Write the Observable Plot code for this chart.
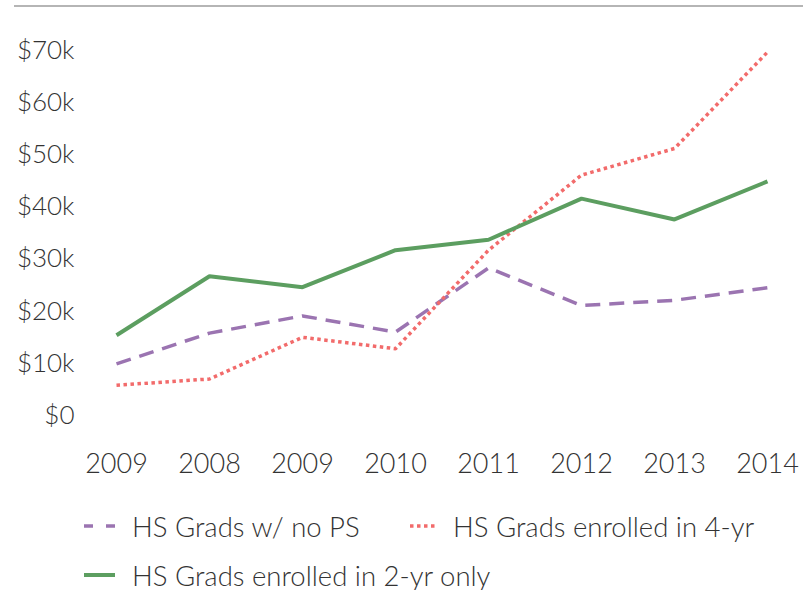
<!DOCTYPE html>
<html>
<head>
<meta charset="utf-8">
<script src="https://cdn.jsdelivr.net/npm/d3@7"></script>
<script src="https://cdn.jsdelivr.net/npm/@observablehq/plot@0.6"></script>
<style>
  html, body { margin: 0; padding: 0; background: #fff; }
  body { width: 803px; height: 590px; position: relative; overflow: hidden; font-family: "Lato Light", Lato, "Open Sans", sans-serif; font-weight: 300; color: #333; }
  #topline { position: absolute; left: 14px; top: 5px; width: 789px; height: 2px; background: #b5b5b5; }
  #chart { position: absolute; left: 0; top: 0; }
  #legend { position: absolute; left: 0; top: 490px; width: 803px; }
  .item { position: absolute; display: flex; align-items: center; font-size: 27.5px; white-space: nowrap; }
  .item svg { display: block; }
</style>
</head>
<body>
<div id="topline"></div>
<div id="chart"></div>
<div id="legend"></div>
<script>
const categories = ["2009", "2008", "2009", "2010", "2011", "2012", "2013", "2014"];
const seriesNames = ["HS Grads w/ no PS", "HS Grads enrolled in 4-yr", "HS Grads enrolled in 2-yr only"];
const noPS = [9900, 15800, 19100, 16000, 28300, 21100, 22100, 24500];
const fourYr = [5800, 7000, 15000, 12800, 31700, 46100, 51200, 69700];
const twoYr = [15400, 26700, 24600, 31700, 33700, 41600, 37600, 44900];
const yTicks = [0, 10000, 20000, 30000, 40000, 50000, 60000, 70000];

const colors = ["#9b74b1", "#f26b6b", "#5c9e60"];
const dashes = ["15,9", "3.5,3.5", null];
const widths = [3.5, 3.5, 4];

const values = [noPS, fourYr, twoYr];
const data = [];
values.forEach((arr, s) => arr.forEach((v, i) => data.push({series: seriesNames[s], i, v})));

const plot = Plot.plot({
  width: 803,
  height: 490,
  marginLeft: 115,
  marginRight: 36,
  marginTop: 50,
  marginBottom: 75,
  style: {fontFamily: "'Lato Light', Lato, 'Open Sans', sans-serif", fontWeight: 300, fontSize: "26px", color: "#333", background: "transparent"},
  x: {type: "point", domain: d3.range(categories.length), padding: 0},
  y: {domain: [0, 70000]},
  marks: [
    Plot.axisX({tickSize: 0, tickPadding: 38, tickFormat: i => categories[i], fontSize: 27, label: null}),
    Plot.axisY({ticks: yTicks, tickSize: 0, tickPadding: 41, tickFormat: v => v === 0 ? "$0" : `$${v / 1000}k`, fontSize: 26, label: null}),
    ...seriesNames.map((name, s) => Plot.line(data.filter(d => d.series === name), {
      x: "i", y: "v", stroke: colors[s], strokeWidth: widths[s], strokeDasharray: dashes[s],
      strokeLinecap: "butt", strokeLinejoin: "miter"
    }))
  ]
});
document.getElementById("chart").appendChild(plot);

const legend = document.getElementById("legend");
// [left, centerY, sample width, gap to text]
const layout = [[84, 36, 31, 17], [410, 36, 28, 15], [84, 85, 31, 17]];
seriesNames.forEach((name, s) => {
  const [left, cy, w, gap] = layout[s];
  const div = document.createElement("div");
  div.className = "item";
  div.style.left = left + "px";
  div.style.top = (cy - 18) + "px";
  div.style.height = "36px";
  const dash = s === 0 ? "9,13" : dashes[s];
  div.innerHTML = `<svg width="${w}" height="36" style="margin-right:${gap}px"><line x1="0" x2="${w}" y1="18" y2="18" stroke="${colors[s]}" stroke-width="${widths[s]}" ${dash ? `stroke-dasharray="${dash}"` : ""}/></svg><span>${name}</span>`;
  legend.appendChild(div);
});
</script>
</body>
</html>
